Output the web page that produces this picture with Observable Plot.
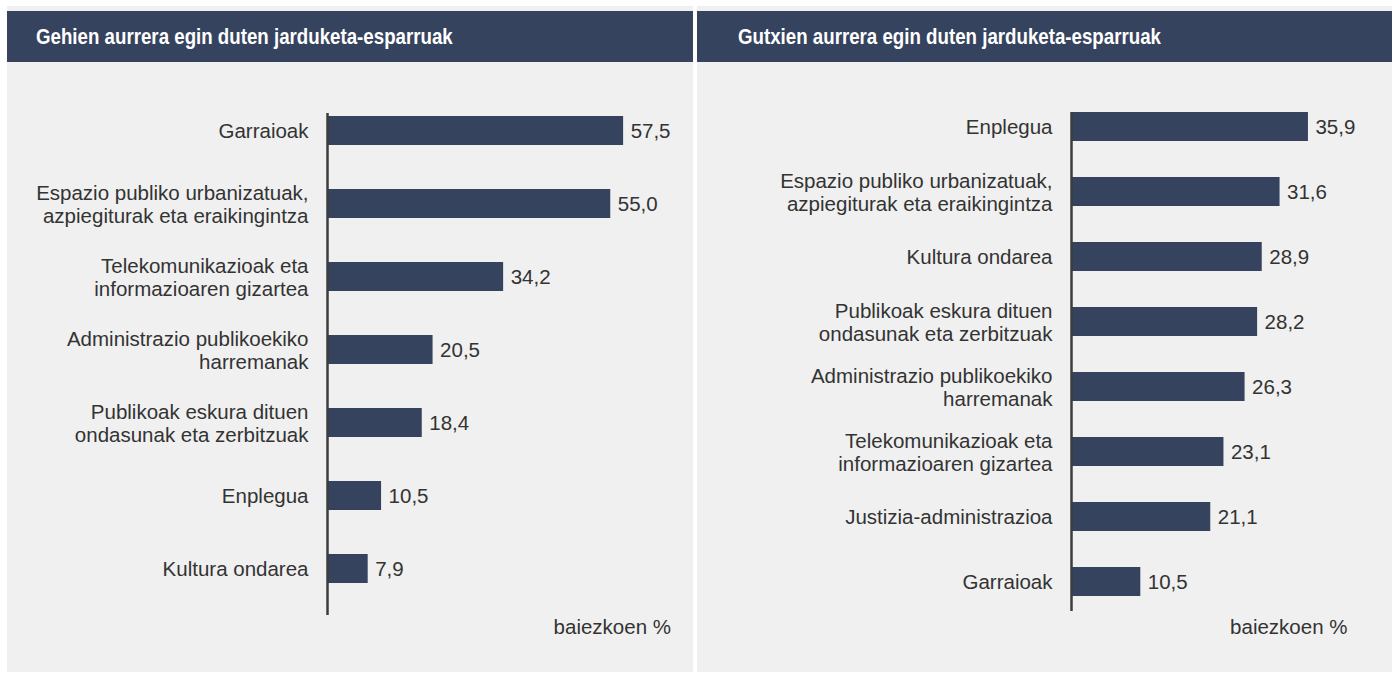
<!DOCTYPE html>
<html>
<head>
<meta charset="utf-8">
<script src="https://cdn.jsdelivr.net/npm/d3@7"></script>
<script src="https://cdn.jsdelivr.net/npm/@observablehq/plot@0.6"></script>
<style>
  body { margin: 0; background: #ffffff; font-family: "Liberation Sans", Arial, Helvetica, sans-serif; }
  #wrap { position: relative; width: 1392px; height: 675px; overflow: hidden; }
  .panel { position: absolute; top: 6px; height: 666px; background: #f0f0f0; }
  .hdr { position: absolute; top: 5px; left: 0; right: 0; height: 51px; background: #36435e; color: #ffffff;
         font-weight: bold; font-size: 22px; display: flex; align-items: center; box-sizing: border-box; }
  .hdr span { display: inline-block; transform: scaleX(0.85); transform-origin: left center; white-space: nowrap; }
  .chart { position: absolute; top: 56px; left: 0; }
</style>
</head>
<body>
<div id="wrap">
  <div class="panel" style="left:7px;width:686px;">
    <div class="hdr" style="padding-left:29px;"><span>Gehien aurrera egin duten jarduketa-esparruak</span></div>
    <div class="chart" id="left"></div>
  </div>
  <div class="panel" style="left:697px;width:695px;">
    <div class="hdr" style="padding-left:41px;"><span>Gutxien aurrera egin duten jarduketa-esparruak</span></div>
    <div class="chart" id="right"></div>
  </div>
</div>
<script>
const leftCategories = [
  "Garraioak",
  "Espazio publiko urbanizatuak,\nazpiegiturak eta eraikingintza",
  "Telekomunikazioak eta\ninformazioaren gizartea",
  "Administrazio publikoekiko\nharremanak",
  "Publikoak eskura dituen\nondasunak eta zerbitzuak",
  "Enplegua",
  "Kultura ondarea"
];
const leftValues = [57.5, 55.0, 34.2, 20.5, 18.4, 10.5, 7.9];

const rightCategories = [
  "Enplegua",
  "Espazio publiko urbanizatuak,\nazpiegiturak eta eraikingintza",
  "Kultura ondarea",
  "Publikoak eskura dituen\nondasunak eta zerbitzuak",
  "Administrazio publikoekiko\nharremanak",
  "Telekomunikazioak eta\ninformazioaren gizartea",
  "Justizia-administrazioa",
  "Garraioak"
];
const rightValues = [35.9, 31.6, 28.9, 28.2, 26.3, 23.1, 21.1, 10.5];

const unitLabel = "baiezkoen %";

const barColor = "#36435e";
const textColor = "#333333";
const fmt = v => v.toFixed(1).replace(".", ",");

function makeChart(cats, vals, o) {
  const data = cats.map((c, i) => ({cat: c, v: vals[i]}));
  return Plot.plot({
    width: o.width,
    height: 610,
    marginLeft: o.marginLeft,
    marginRight: o.marginRight,
    marginTop: o.marginTop,
    marginBottom: o.marginBottom,
    style: {background: "transparent", fontFamily: "'Liberation Sans', Arial, Helvetica, sans-serif", color: textColor},
    x: {domain: [0, o.xMax], axis: null},
    y: {domain: cats, axis: null, paddingInner: o.pi, paddingOuter: o.po, align: o.align},
    marks: [
      Plot.barX(data, {x: "v", y: "cat", fill: barColor}),
      Plot.ruleX([0], {stroke: "#3d3d3d", strokeWidth: 2.5}),
      Plot.text(data, {y: "cat", text: "cat", frameAnchor: "left", textAnchor: "end", dx: -19,
                       fontSize: 20.5, lineHeight: 1.13, fill: textColor}),
      Plot.text(data, {x: "v", y: "cat", text: d => fmt(d.v), textAnchor: "start", dx: 7,
                       fontSize: 20.5, fill: textColor}),
      Plot.text([unitLabel], {frameAnchor: "bottom-right", textAnchor: "end", dx: o.unitDx, dy: o.unitDy,
                       fontSize: 20.5, fill: textColor})
    ]
  });
}

document.getElementById("left").appendChild(makeChart(leftCategories, leftValues, {
  width: 686, marginLeft: 320, marginRight: 5.5, marginTop: 51, marginBottom: 57,
  xMax: 70, pi: 0.605, po: 0.2175, align: 0.08, unitDx: -17, unitDy: 18
}));
document.getElementById("right").appendChild(makeChart(rightCategories, rightValues, {
  width: 695, marginLeft: 374, marginRight: 24, marginTop: 50, marginBottom: 61,
  xMax: 45, pi: 0.56, po: 0.1125, align: 0, unitDx: -21, unitDy: 22
}));
</script>
</body>
</html>
